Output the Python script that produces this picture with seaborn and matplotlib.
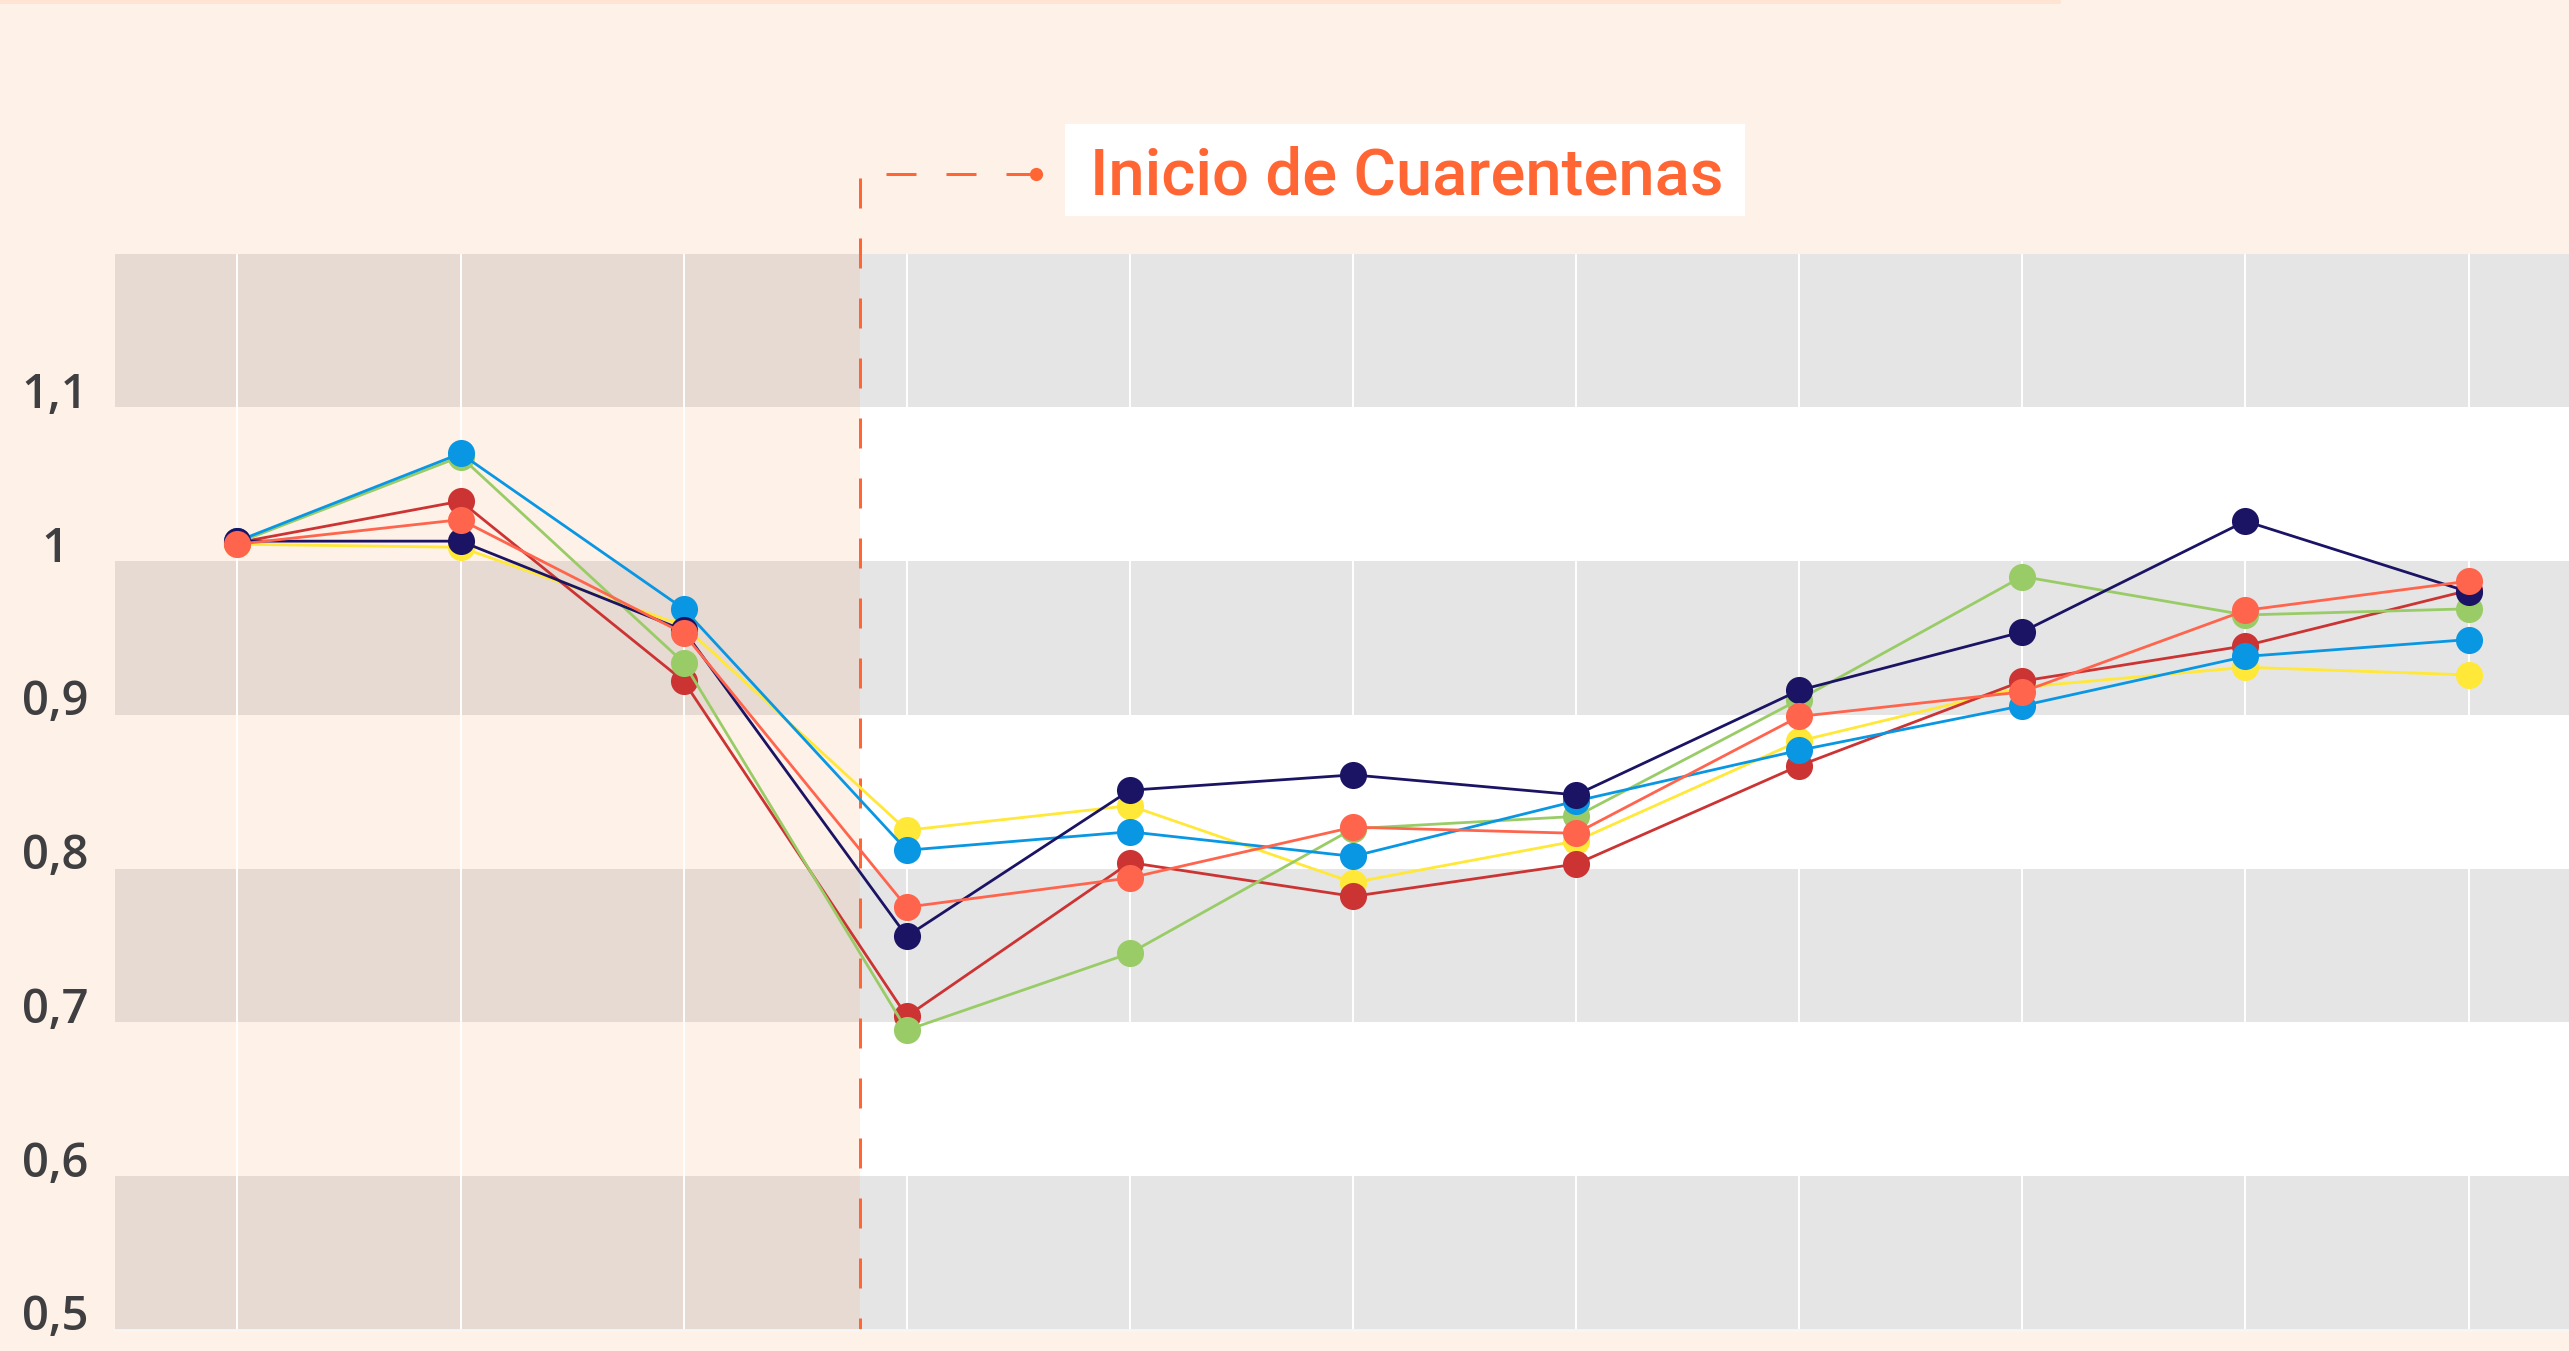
import numpy as np
import pandas as pd
import matplotlib
matplotlib.use('Agg')
import matplotlib.pyplot as plt
import seaborn as sns
from matplotlib.patches import Rectangle

# periodos (sin etiqueta en el eje x)
periodos = list(range(11))

# valores
serie_amarilla = [1.011, 1.009, 0.958, 0.825, 0.841, 0.791, 0.818, 0.883, 0.918, 0.931, 0.926]
serie_roja     = [1.012, 1.039, 0.922, 0.704, 0.804, 0.782, 0.803, 0.867, 0.922, 0.945, 0.981]
serie_verde    = [1.012, 1.068, 0.934, 0.695, 0.745, 0.826, 0.834, 0.910, 0.990, 0.965, 0.969]
serie_azul     = [1.013, 1.070, 0.969, 0.812, 0.824, 0.808, 0.844, 0.877, 0.906, 0.938, 0.949]
serie_navy     = [1.013, 1.013, 0.955, 0.756, 0.851, 0.861, 0.848, 0.916, 0.954, 1.026, 0.980]
serie_naranja  = [1.011, 1.027, 0.953, 0.775, 0.794, 0.827, 0.823, 0.899, 0.915, 0.968, 0.987]

nombres = ['Serie A', 'Serie B', 'Serie C', 'Serie D', 'Serie E', 'Serie F']
colores = ['#FFE838', '#CC3333', '#99CC66', '#0996E3', '#1B1464', '#FF644D']
series = [serie_amarilla, serie_roja, serie_verde, serie_azul, serie_navy, serie_naranja]

yticks = [0.5, 0.6, 0.7, 0.8, 0.9, 1.0, 1.1]
ytick_labels = ['0,5', '0,6', '0,7', '0,8', '0,9', '1', '1,1']

inicio_cuarentena = 2.79
etiqueta = 'Inicio de Cuarentenas'

FONDO = '#FEF1E8'
NARANJA = '#FF6633'

df = pd.DataFrame({
    'periodo': periodos * len(series),
    'valor': np.concatenate(series),
    'serie': np.repeat(nombres, len(periodos)),
})

sns.set_style('white')
plt.rcParams['font.family'] = ['Roboto', 'DejaVu Sans']

fig = plt.figure(figsize=(25.69, 13.515), dpi=100, facecolor=FONDO)
ax = fig.add_axes([0.04465, 0.01554, 0.95535, 0.79645])
ax.set_facecolor('white')

xmin, xmax = -0.55, 10.45
ymin, ymax = 0.5, 1.2
ax.set_xlim(xmin, xmax)
ax.set_ylim(ymin, ymax)
frac = (inicio_cuarentena - xmin) / (xmax - xmin)

# zona previa a cuarentena y bandas alternas
ax.axvspan(xmin, inicio_cuarentena, color=FONDO, lw=0, zorder=0.1)
for lo in [0.5, 0.7, 0.9, 1.1]:
    ax.axhspan(lo, lo + 0.1, xmin=0, xmax=frac, color='#E6DAD2', lw=0, zorder=0.2)
    ax.axhspan(lo, lo + 0.1, xmin=frac, xmax=1, color='#E5E5E5', lw=0, zorder=0.2)

sns.lineplot(data=df, x='periodo', y='valor', hue='serie', hue_order=nombres,
             palette=colores, marker='o', markersize=19.5, markeredgewidth=0,
             linewidth=2.0, legend=False, ax=ax, zorder=3)

ax.set_axisbelow(True)
ax.set_xticks(periodos)
ax.set_xticklabels([])
ax.grid(axis='x', color='white', lw=1.4, zorder=0.5)
ax.grid(axis='y', visible=False)
ax.set_yticks(yticks)
ax.set_yticklabels(ytick_labels, ha='center', va='baseline',
                   family=['Open Sans', 'DejaVu Sans'], fontweight='semibold')
ax.tick_params(axis='y', length=0, pad=43, labelsize=34, labelcolor='#3F3F42')
ax.tick_params(axis='x', length=0)
ax.set_xlabel('')
ax.set_ylabel('')
for s in ['top', 'right', 'left']:
    ax.spines[s].set_visible(False)
ax.spines['bottom'].set_color('#F6F6F6')
ax.spines['bottom'].set_linewidth(2)

# linea de inicio de cuarentenas
y_conector = 1.2515
x_punto = 3.58
ax.plot([x_punto, inicio_cuarentena, inicio_cuarentena], [y_conector, y_conector, ymin],
        color=NARANJA, lw=2.16, linestyle=(0, (10, 10)), clip_on=False, zorder=2.5)
ax.plot([x_punto], [y_conector], 'o', color=NARANJA, ms=9.5, mew=0, clip_on=False, zorder=4)

# recuadro de texto
W, H = 2569, 1351
fig.patches.append(Rectangle((1065 / W, 1 - 216 / H), 680 / W, 92 / H,
                             transform=fig.transFigure, color='white', lw=0, zorder=1))
fig.text(1090 / W, 1 - 194 / H, etiqueta, fontsize=47, color=NARANJA,
         fontweight='medium', ha='left', va='baseline', zorder=2)

# franja superior
fig.patches.append(Rectangle((0, 1 - 4 / H), 2061 / W, 4 / H,
                             transform=fig.transFigure, color='#FFE3D3', lw=0))

fig.savefig('out.png', dpi=100, facecolor=FONDO)
plt.close()
